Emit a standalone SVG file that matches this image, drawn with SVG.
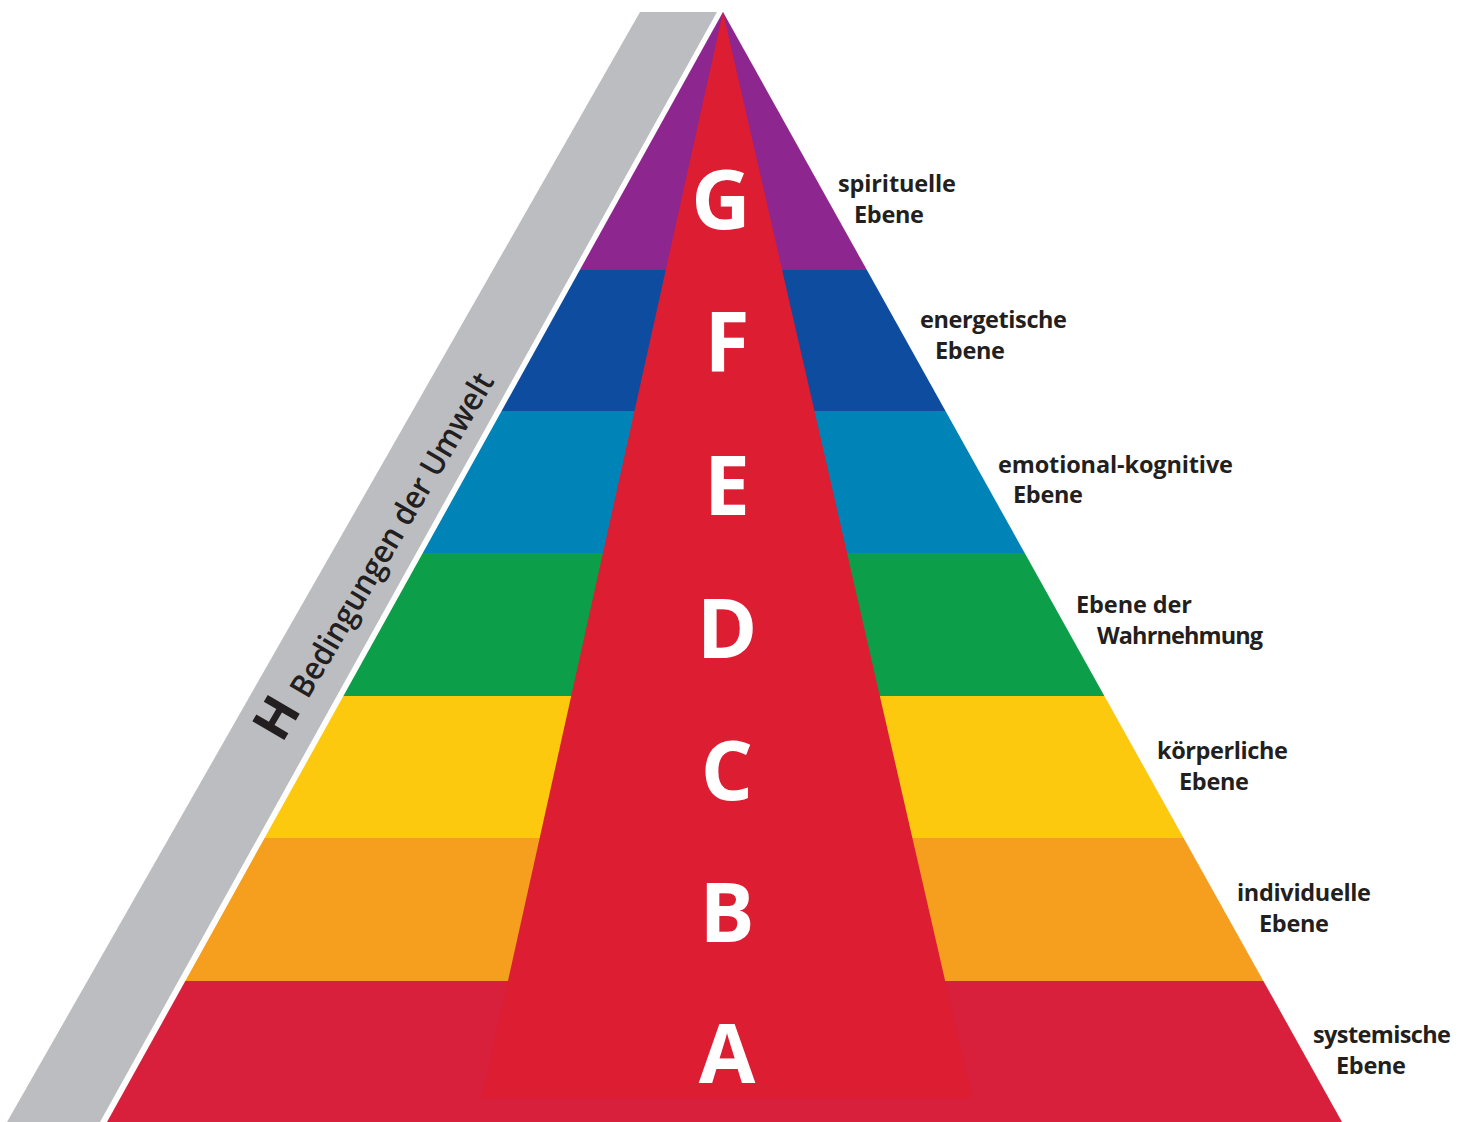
<svg xmlns="http://www.w3.org/2000/svg" width="1470" height="1122" viewBox="0 0 1470 1122">
<style>
  .lbl { font-family: "Open Sans", "Liberation Sans", sans-serif; font-weight: 700; font-size: 23.5px; fill: #231F20; }
  .ltr { font-family: "Open Sans", "Liberation Sans", sans-serif; font-weight: 700; font-size: 82px; fill: #FFFFFF; text-anchor: middle; }
  .env { font-family: "Open Sans", "Liberation Sans", sans-serif; fill: #231F20; }
</style>
<rect x="0" y="0" width="1470" height="1122" fill="#FFFFFF"/>

<g id="level-H">
  <polygon points="640,12 717,12 100,1122 7,1122" fill="#BCBDC0"/>
  <g transform="translate(282,744) rotate(-59.6)">
    <text class="env" x="0" y="0" font-size="52" font-weight="700">H</text>
    <text class="env" x="51" y="0" font-size="32" font-weight="600" textLength="370" lengthAdjust="spacingAndGlyphs">Bedingungen der Umwelt</text>
  </g>
</g>

<g id="level-G">
  <polygon points="723,12 866.9,270 579.8,270" fill="#8E268F"/>
  <text class="lbl" x="838" y="192" textLength="118">spirituelle</text>
  <text class="lbl" x="854" y="223" textLength="70">Ebene</text>
</g>
<g id="level-F">
  <polygon points="579.8,270 866.9,270 945.5,411 501.6,411" fill="#0D4C9F"/>
  <text class="lbl" x="920" y="328" textLength="147">energetische</text>
  <text class="lbl" x="935" y="359" textLength="70">Ebene</text>
</g>
<g id="level-E">
  <polygon points="501.6,411 945.5,411 1024.7,553 422.8,553" fill="#0083B7"/>
  <text class="lbl" x="998" y="473" textLength="235">emotional-kognitive</text>
  <text class="lbl" x="1013" y="503" textLength="70">Ebene</text>
</g>
<g id="level-D">
  <polygon points="422.8,553 1024.7,553 1104.4,696 343.4,696" fill="#0C9E48"/>
  <text class="lbl" x="1076" y="613" textLength="116">Ebene der</text>
  <text class="lbl" x="1097" y="644" textLength="166">Wahrnehmung</text>
</g>
<g id="level-C">
  <polygon points="343.4,696 1104.4,696 1183.6,838 264.6,838" fill="#FCC90E"/>
  <text class="lbl" x="1157" y="759" textLength="131">körperliche</text>
  <text class="lbl" x="1179" y="790" textLength="70">Ebene</text>
</g>
<g id="level-B">
  <polygon points="264.6,838 1183.6,838 1263.4,981 185.3,981" fill="#F69E1E"/>
  <text class="lbl" x="1237" y="901" textLength="134">individuelle</text>
  <text class="lbl" x="1259" y="932" textLength="70">Ebene</text>
</g>
<g id="level-A">
  <polygon points="185.3,981 1263.4,981 1342,1122 107,1122" fill="#D81F3C"/>
  <text class="lbl" x="1313" y="1043" textLength="138">systemische</text>
  <text class="lbl" x="1336" y="1074" textLength="70">Ebene</text>
</g>

<g id="core">
  <polygon points="723,12 972,1098 482,1098" fill="#DC1D32"/>
  <text class="ltr" x="721" y="229">G</text>
  <text class="ltr" x="727" y="371">F</text>
  <text class="ltr" x="727" y="515">E</text>
  <text class="ltr" x="727" y="658">D</text>
  <text class="ltr" x="727" y="800">C</text>
  <text class="ltr" x="727" y="942">B</text>
  <text class="ltr" x="727" y="1083">A</text>
</g>

<g id="connectors"></g>
</svg>
